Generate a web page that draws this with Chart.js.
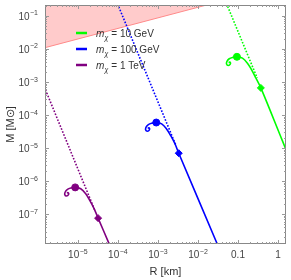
<!DOCTYPE html>
<html>
<head>
<meta charset="utf-8">
<script src="https://cdn.jsdelivr.net/npm/chart.js@4.4.1/dist/chart.umd.min.js"></script>
<style>
  html, body { margin: 0; padding: 0; background: #fff; }
  #wrap { width: 291px; height: 280px; }
</style>
</head>
<body>
<div id="wrap"><canvas id="chart"></canvas></div>
<script>
// R em km, M em massas solares
// rotulos: [base, expoente] (expoente vazio = texto simples)
const xTicks = [1e-5, 1e-4, 1e-3, 1e-2, 0.1, 1];
const xTickLabels = [["10", "−5"], ["10", "−4"], ["10", "−3"], ["10", "−2"], ["0.1", ""], ["1", ""]];
const yTicks = [1e-7, 1e-6, 1e-5, 1e-4, 1e-3, 1e-2, 1e-1];
const yTickLabels = [["10", "−7"], ["10", "−6"], ["10", "−5"], ["10", "−4"], ["10", "−3"], ["10", "−2"], ["10", "−1"]];

const massLabels = ["10 GeV", "100 GeV", "1 TeV"];

// regiao excluida (acima da linha)
const boundR = [1e-7, 10];
const boundM = [4.6e-3, 1.66];

// m = 10 GeV
const greenDotR = [0.0447, 0.302];
const greenDotM = [0.359, 1.32e-3];
const greenR = [0.0581, 0.0630, 0.0640, 0.0570, 0.0518, 0.0530, 0.0604, 0.0729, 0.0940, 0.129, 0.172, 0.217, 0.279, 0.372, 1.28, 2.0];
const greenM = [3.92e-3, 4.0e-3, 3.48e-3, 3.18e-3, 3.48e-3, 4.2e-3, 5.06e-3, 5.53e-3, 5.8e-3, 5.27e-3, 3.73e-3, 2.37e-3, 1.33e-3, 6.65e-4, 1.69e-5, 4.5e-6];
const greenMax = [0.0940, 5.8e-3];
const greenMark = [0.372, 6.65e-4];

// m = 100 GeV
const blueDotR = [7.94e-5, 2.82e-3];
const blueDotM = [0.43, 1.2e-5];
const blueR = [5.55e-4, 6.01e-4, 6.11e-4, 5.45e-4, 4.94e-4, 5.06e-4, 5.77e-4, 6.97e-4, 9.08e-4, 1.24e-3, 1.64e-3, 2.07e-3, 2.66e-3, 3.31e-3, 2.99e-2, 3.98e-2];
const blueM = [4.01e-5, 4.09e-5, 3.56e-5, 3.26e-5, 3.56e-5, 4.30e-5, 5.18e-5, 5.66e-5, 5.96e-5, 5.40e-5, 3.82e-5, 2.42e-5, 1.36e-5, 7.03e-6, 1.30e-8, 5.6e-9];
const blueMax = [9.08e-4, 5.96e-5];
const blueMark = [3.31e-3, 7.03e-6];

// m = 1 TeV
const purpleDotR = [1.26e-6, 2.69e-5];
const purpleDotM = [1.08e-3, 1.26e-7];
const purpleR = [5.30e-6, 5.74e-6, 5.83e-6, 5.20e-6, 4.72e-6, 4.83e-6, 5.51e-6, 6.65e-6, 8.57e-6, 1.18e-5, 1.57e-5, 1.98e-5, 2.54e-5, 3.20e-5, 5.90e-5, 7.94e-5];
const purpleM = [4.40e-7, 4.49e-7, 3.91e-7, 3.57e-7, 3.91e-7, 4.71e-7, 5.68e-7, 6.21e-7, 6.50e-7, 5.92e-7, 4.19e-7, 2.65e-7, 1.49e-7, 7.64e-8, 1.36e-8, 5.6e-9];
const purpleMax = [8.57e-6, 6.50e-7];
const purpleMark = [3.20e-5, 7.64e-8];

const cores = ["#00ff00", "#0000ff", "#800080"];
const fonte = "'Liberation Sans', Arial, sans-serif";

function pontos(rs, ms) {
  return rs.map((r, i) => ({ x: r, y: ms[i] }));
}

function serie(cor, dotR, dotM, rs, ms, max, mark) {
  return [
    { data: pontos(dotR, dotM), borderColor: cor, borderWidth: 1.6, borderDash: [1.6, 1.6], pointRadius: 0, showLine: true, order: 3 },
    { data: pontos(rs, ms), borderColor: cor, borderWidth: 1.6, tension: 0.35, pointRadius: 0, showLine: true, order: 2 },
    { data: [{ x: max[0], y: max[1] }], backgroundColor: cor, borderColor: cor, pointRadius: 3.5, showLine: false, order: 1 },
    { data: [{ x: mark[0], y: mark[1] }], backgroundColor: cor, borderColor: cor, pointStyle: "rectRot", pointRadius: 3.5, showLine: false, order: 1 },
  ];
}

const datasets = [
  { data: pontos(boundR, boundM), borderColor: "#ff8a8a", borderWidth: 1, backgroundColor: "rgba(255, 160, 160, 0.55)", fill: "end", pointRadius: 0, showLine: true, order: 10 },
  ...serie(cores[0], greenDotR, greenDotM, greenR, greenM, greenMax, greenMark),
  ...serie(cores[1], blueDotR, blueDotM, blueR, blueM, blueMax, blueMark),
  ...serie(cores[2], purpleDotR, purpleDotM, purpleR, purpleM, purpleMax, purpleMark),
];

// texto com expoente
function rotulo(ctx, par, x, y, alinhar) {
  ctx.font = "10px " + fonte;
  const wb = ctx.measureText(par[0]).width;
  ctx.font = "7px " + fonte;
  const we = par[1] ? ctx.measureText(par[1]).width + 0.5 : 0;
  let x0 = alinhar === "right" ? x - wb - we : x - (wb + we) / 2;
  ctx.textAlign = "left";
  ctx.textBaseline = "alphabetic";
  ctx.font = "10px " + fonte;
  ctx.fillText(par[0], x0, y);
  if (par[1]) {
    ctx.font = "7px " + fonte;
    ctx.fillText(par[1], x0 + wb + 0.5, y - 4.5);
  }
}

// moldura, marcas dos eixos (para dentro) e rotulos
const moldura = {
  id: "moldura",
  afterDatasetsDraw(chart) {
    const { ctx, chartArea: a, scales: { x, y } } = chart;
    ctx.save();
    ctx.strokeStyle = "#888";
    ctx.lineWidth = 1;
    ctx.strokeRect(a.left + 0.5, a.top + 0.5, a.right - a.left - 1, a.bottom - a.top - 1);
    ctx.strokeStyle = "#999";
    ctx.beginPath();
    for (let d = -8; d <= 1; d++) {
      for (let k = 1; k <= 9; k++) {
        const v = k * Math.pow(10, d);
        const len = k === 1 ? 4 : 2;
        if (v > x.min && v < x.max) {
          const px = Math.round(x.getPixelForValue(v)) + 0.5;
          ctx.moveTo(px, a.bottom); ctx.lineTo(px, a.bottom - len);
          ctx.moveTo(px, a.top); ctx.lineTo(px, a.top + len);
        }
        if (v > y.min && v < y.max) {
          const py = Math.round(y.getPixelForValue(v)) + 0.5;
          ctx.moveTo(a.left, py); ctx.lineTo(a.left + len, py);
          ctx.moveTo(a.right, py); ctx.lineTo(a.right - len, py);
        }
      }
    }
    ctx.stroke();
    ctx.fillStyle = "#444";
    xTicks.forEach((v, i) => rotulo(ctx, xTickLabels[i], x.getPixelForValue(v), a.bottom + 14, "center"));
    yTicks.forEach((v, i) => rotulo(ctx, yTickLabels[i], a.left - 7, y.getPixelForValue(v) + 4, "right"));
    ctx.restore();
  },
};

// legenda com m_chi
const legenda = {
  id: "legenda",
  afterDraw(chart) {
    const { ctx } = chart;
    ctx.save();
    massLabels.forEach((txt, i) => {
      const yy = 33 + i * 16;
      ctx.strokeStyle = cores[i];
      ctx.lineWidth = 2.5;
      ctx.beginPath();
      ctx.moveTo(76, yy);
      ctx.lineTo(87, yy);
      ctx.stroke();
      ctx.fillStyle = "#333";
      ctx.textBaseline = "alphabetic";
      ctx.font = "italic 10px " + fonte;
      ctx.fillText("m", 96, yy + 4);
      ctx.font = "italic 7px " + fonte;
      ctx.fillText("χ", 104.5, yy + 6.5);
      ctx.font = "10px " + fonte;
      ctx.fillText(" = " + txt, 108.5, yy + 4);
    });
    ctx.restore();
  },
};

new Chart(document.getElementById("chart"), {
  type: "scatter",
  data: { datasets: datasets },
  options: {
    responsive: true,
    maintainAspectRatio: false,
    animation: false,
    layout: { padding: { top: 3, right: 4, left: 0, bottom: 0 } },
    plugins: { legend: { display: false }, tooltip: { enabled: false } },
    scales: {
      x: {
        type: "logarithmic",
        min: 1.51e-6,
        max: 1.58,
        grid: { display: false },
        border: { display: false },
        afterBuildTicks: (s) => { s.ticks = xTicks.map((v) => ({ value: v })); },
        afterFit: (s) => { s.height = 36; },
        ticks: { display: false },
        title: {
          display: true,
          text: "R [km]",
          color: "#333",
          padding: { top: 0, bottom: 1 },
          font: { family: fonte, size: 11 },
        },
      },
      y: {
        type: "logarithmic",
        min: 1.26e-8,
        max: 0.214,
        grid: { display: false },
        border: { display: false },
        afterBuildTicks: (s) => { s.ticks = yTicks.map((v) => ({ value: v })); },
        afterFit: (s) => { s.width = 45; },
        ticks: { display: false },
        title: {
          display: true,
          text: "M [M⊙]",
          color: "#333",
          padding: { top: 4, bottom: 0 },
          font: { family: fonte, size: 11 },
        },
      },
    },
  },
  plugins: [moldura, legenda],
});
</script>
</body>
</html>
